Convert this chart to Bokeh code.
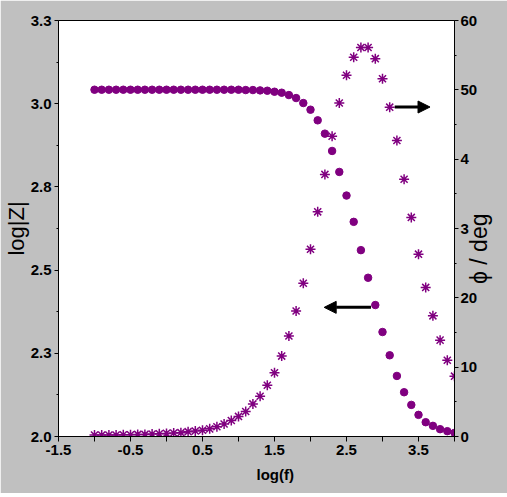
import math
from bokeh.plotting import figure
from bokeh.models import Range1d, LinearAxis, FixedTicker, Arrow, NormalHead, ColumnDataSource
from bokeh.embed import file_html
from bokeh.resources import INLINE

# ---- data ----
log_f = [-1.0, -0.9, -0.8, -0.7, -0.6, -0.5, -0.4, -0.3, -0.2, -0.1,
         0.0, 0.1, 0.2, 0.3, 0.4, 0.5, 0.6, 0.7, 0.8, 0.9,
         1.0, 1.1, 1.2, 1.3, 1.4, 1.5, 1.6, 1.7, 1.8, 1.9,
         2.0, 2.1, 2.2, 2.3, 2.4, 2.5, 2.6, 2.7, 2.8, 2.9,
         3.0, 3.1, 3.2, 3.3, 3.4, 3.5, 3.6, 3.7, 3.8, 3.9, 4.0]

log_z = [3.042, 3.042, 3.042, 3.042, 3.042, 3.042, 3.042, 3.042, 3.042, 3.042,
         3.042, 3.042, 3.042, 3.042, 3.042, 3.042, 3.042, 3.042, 3.042, 3.042,
         3.042, 3.041, 3.041, 3.040, 3.039, 3.036, 3.033, 3.026, 3.017, 3.002,
         2.982, 2.950, 2.910, 2.858, 2.795, 2.724, 2.645, 2.560, 2.477, 2.395,
         2.314, 2.244, 2.182, 2.133, 2.095, 2.065, 2.043, 2.032, 2.022, 2.016, 2.011]

phase = [0.2, 0.2, 0.2, 0.2, 0.25, 0.25, 0.3, 0.3, 0.35, 0.4,
         0.45, 0.5, 0.55, 0.7, 0.8, 0.9, 1.1, 1.4, 1.8, 2.3,
         2.9, 3.6, 4.7, 5.8, 7.4, 9.2, 11.6, 14.5, 18.1, 22.1,
         27.0, 32.4, 37.8, 43.3, 48.1, 52.1, 54.7, 56.1, 56.1, 54.5,
         51.6, 47.5, 42.7, 37.1, 31.6, 26.3, 21.5, 17.4, 13.9, 11.0, 8.7]

x_ticks = [-1.5, -0.5, 0.5, 1.5, 2.5, 3.5]
x_minor_ticks = [-1.0, 0.0, 1.0, 2.0, 3.0, 4.0]
x_tick_labels = ["-1.5", "-0.5", "0.5", "1.5", "2.5", "3.5"]

z_ticks = [2.0, 2.25, 2.5, 2.75, 3.0, 3.25]
z_minor_ticks = [2.125, 2.375, 2.625, 2.875, 3.125]
z_tick_labels = ["2.0", "2.3", "2.5", "2.8", "3.0", "3.3"]

ph_ticks = [0, 10, 20, 30, 40, 50, 60]
ph_minor_ticks = [5, 15, 25, 35, 45, 55]
ph_tick_labels = ["0", "10", "20", "3", "4", "50", "60"]

x_title = "log(f)"
z_title = "log|Z|"
ph_title = "\u03d5 / deg"
ph_title_at = 22.0   # where the phase title starts, on the phase scale

PURPLE = "#800080"
GRAY = "#c0c0c0"
FONT = "Liberation Sans"
NBSP = "\u00a0"

p = figure(width=505, height=493, frame_width=396, frame_height=416,
           min_border_left=54, min_border_right=55, min_border_top=20, min_border_bottom=57,
           x_range=Range1d(-1.5, 4.0), y_range=Range1d(2.0, 3.25),
           output_backend="svg", toolbar_location=None,
           background_fill_color="white", border_fill_color=GRAY)
p.outline_line_color = "black"
p.outline_line_width = 1
p.xgrid.grid_line_color = None
p.ygrid.grid_line_color = None

p.extra_y_ranges = {"phase": Range1d(0, 60)}
right_axis = LinearAxis(y_range_name="phase")
p.add_layout(right_axis, "right")

p.xaxis.ticker = FixedTicker(ticks=x_ticks, minor_ticks=x_minor_ticks)
p.xaxis.major_label_overrides = dict(zip(x_ticks, x_tick_labels))
p.yaxis[0].ticker = FixedTicker(ticks=z_ticks, minor_ticks=z_minor_ticks)
p.yaxis[0].major_label_overrides = dict(zip(z_ticks, z_tick_labels))
right_axis.ticker = FixedTicker(ticks=ph_ticks, minor_ticks=ph_minor_ticks)
right_axis.major_label_overrides = dict(zip(ph_ticks, ph_tick_labels))

for ax in [p.xaxis[0], p.yaxis[0], right_axis]:
    ax.axis_line_color = "black"
    ax.axis_line_width = 1
    ax.major_tick_in = 0
    ax.major_tick_out = 4
    ax.minor_tick_in = 0
    ax.minor_tick_out = 2
    ax.major_tick_line_color = "black"
    ax.minor_tick_line_color = "black"
    ax.major_label_text_font = FONT
    ax.major_label_text_font_style = "bold"
    ax.major_label_text_font_size = "15px"
    ax.major_label_text_color = "black"
    ax.major_label_standoff = 3
    ax.axis_label_text_font = FONT
    ax.axis_label_text_color = "black"

p.xaxis[0].minor_tick_out = 5
p.xaxis[0].major_tick_out = 5
right_axis.major_label_standoff = 2

# axis titles (no-break spaces only nudge the centred title, as in the original)
p.xaxis[0].axis_label = NBSP * 9 + x_title
p.xaxis[0].axis_label_text_font_style = "bold"
p.xaxis[0].axis_label_text_font_size = "15px"
p.xaxis[0].axis_label_standoff = 8

p.yaxis[0].axis_label = z_title
p.yaxis[0].axis_label_text_font_style = "normal"
p.yaxis[0].axis_label_text_font_size = "22px"
p.yaxis[0].axis_label_standoff = -1

# the phase title sits below centre and reads bottom to top: it is carried by a
# bare second right axis (no line, no tick marks) as its single label
title_axis = LinearAxis(y_range_name="phase",
                        ticker=FixedTicker(ticks=[ph_title_at], minor_ticks=[]),
                        axis_line_color=None, major_tick_line_color=None,
                        minor_tick_line_color=None, major_tick_out=0, major_tick_in=0,
                        minor_tick_out=0, minor_tick_in=0)
title_axis.major_label_overrides = {ph_title_at: ph_title}
title_axis.major_label_orientation = math.pi / 2
title_axis.major_label_text_font = FONT
title_axis.major_label_text_color = "black"
title_axis.major_label_text_font_style = "normal"
title_axis.major_label_text_font_size = "23px"
title_axis.major_label_standoff = -1
p.add_layout(title_axis, "right")

src = ColumnDataSource(dict(log_f=log_f, log_z=log_z, phase=phase))
p.scatter("log_f", "log_z", source=src, marker="circle", size=7.5,
          fill_color=PURPLE, line_color=PURPLE)
p.scatter("log_f", "phase", source=src, marker="asterisk", size=10,
          line_color=PURPLE, line_width=1.5, y_range_name="phase")

# arrows pointing at the matching axis
p.add_layout(Arrow(end=NormalHead(size=12, fill_color="black", line_color="black"),
                   x_start=3.17, y_start=2.99, x_end=3.66, y_end=2.99,
                   line_width=3, line_color="black"))
p.add_layout(Arrow(end=NormalHead(size=12, fill_color="black", line_color="black"),
                   x_start=2.84, y_start=2.388, x_end=2.19, y_end=2.388,
                   line_width=3, line_color="black"))

open("out.html", "w").write(file_html(p, INLINE))
